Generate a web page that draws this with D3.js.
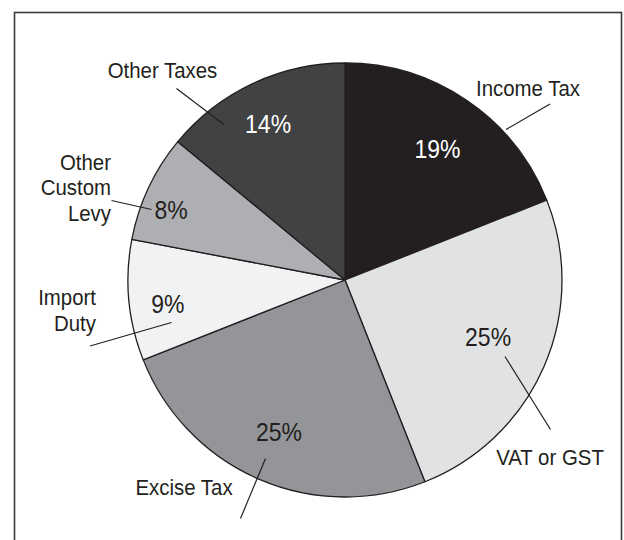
<!DOCTYPE html>
<html>
<head>
<meta charset="utf-8">
<script src="https://cdn.jsdelivr.net/npm/d3@7"></script>
<style>
  html, body { margin: 0; padding: 0; background: #ffffff; }
  svg { display: block; }
  text { font-family: "Liberation Sans", Arial, Helvetica, sans-serif; }
</style>
</head>
<body>
<svg id="chart" width="624" height="540"></svg>
<script>
// ---- data ----
const categories = ["Income Tax", "VAT or GST", "Excise Tax", "Import Duty", "Other Custom Levy", "Other Taxes"];
const values = [19, 25, 25, 9, 8, 14];
const nameLines = [["Income Tax"], ["VAT or GST"], ["Excise Tax"], ["Import", "Duty"], ["Other", "Custom", "Levy"], ["Other Taxes"]];

// ---- styles / layout (not data) ----
const fills = ["#231f20", "#e1e2e4", "#939598", "#f1f2f4", "#aeafb2", "#414244"];
const pctColors = ["#ffffff", "#231f20", "#231f20", "#231f20", "#231f20", "#ffffff"];
const cx = 345, cy = 280, R = 217;
const nameFont = 21.5, nameScaleX = 0.95;
const pctFont = 25, pctScaleX = 0.92;
// percentage label: radius and angle tweak (degrees) relative to slice centroid angle
const pctLayout = [
  { r: 160.4, da: 1.0 }, { r: 154, da: -1.7 }, { r: 165.4, da: 0.1 },
  { r: 178.7, da: -2.4 }, { r: 187.4, da: -3.4 }, { r: 174.2, da: -1.0 }
];
// category label anchor and leader line, in px relative to page
const nameLayout = [
  { x: 528, y: 96, anchor: "middle", line: [[550, 104], [506, 129.5]] },
  { x: 550, y: 465, anchor: "middle", line: [[505, 356.5], [550.5, 429.5]] },
  { x: 184, y: 495, anchor: "middle", line: [[265.5, 458.5], [240.5, 518.5]] },
  { x: 96, y: 305, anchor: "end", line: [[171.5, 322.5], [90, 346]] },
  { x: 111, y: 169.5, anchor: "end", line: [[111.5, 200.5], [151.5, 209.5]] },
  { x: 162.5, y: 77.7, anchor: "middle", line: [[176.5, 88.5], [224.5, 125]] }
];
const lineGap = 26;

const svg = d3.select("#chart");

// frame
svg.append("rect")
  .attr("x", 14.5).attr("y", 12.5)
  .attr("width", 607).attr("height", 600)
  .attr("fill", "none").attr("stroke", "#3a3a3a").attr("stroke-width", 1.6);

const pie = d3.pie().sort(null).value(d => d)(values);
const arc = d3.arc().innerRadius(0).outerRadius(R);

const g = svg.append("g").attr("transform", `translate(${cx},${cy})`);

g.selectAll("path.slice")
  .data(pie)
  .join("path")
  .attr("class", "slice")
  .attr("d", arc)
  .attr("fill", (d, i) => fills[i])
  .attr("stroke", "#231f20")
  .attr("stroke-width", 1.3)
  .attr("stroke-linejoin", "round");

// percentage labels
g.selectAll("text.pct")
  .data(pie)
  .join("text")
  .attr("class", "pct")
  .attr("text-anchor", "middle")
  .attr("dy", "0.36em")
  .style("font-size", pctFont + "px")
  .attr("fill", (d, i) => pctColors[i])
  .attr("transform", (d, i) => {
    const a = (d.startAngle + d.endAngle) / 2 + pctLayout[i].da * Math.PI / 180;
    const r = pctLayout[i].r;
    return `translate(${r * Math.sin(a)},${-r * Math.cos(a)}) scale(${pctScaleX},1)`;
  })
  .text(d => d.value + "%");

// leader lines
svg.selectAll("line.leader")
  .data(nameLayout)
  .join("line")
  .attr("class", "leader")
  .attr("x1", d => d.line[0][0]).attr("y1", d => d.line[0][1])
  .attr("x2", d => d.line[1][0]).attr("y2", d => d.line[1][1])
  .attr("stroke", "#231f20").attr("stroke-width", 1.2);

// category labels
categories.forEach((c, i) => {
  const L = nameLayout[i];
  const t = svg.append("text")
    .attr("transform", `translate(${L.x},${L.y}) scale(${nameScaleX},1)`)
    .attr("text-anchor", L.anchor)
    .style("font-size", nameFont + "px")
    .attr("fill", "#231f20");
  nameLines[i].forEach((ln, k) => {
    t.append("tspan").attr("x", 0).attr("dy", k === 0 ? 0 : lineGap).text(ln);
  });
});
</script>
</body>
</html>
